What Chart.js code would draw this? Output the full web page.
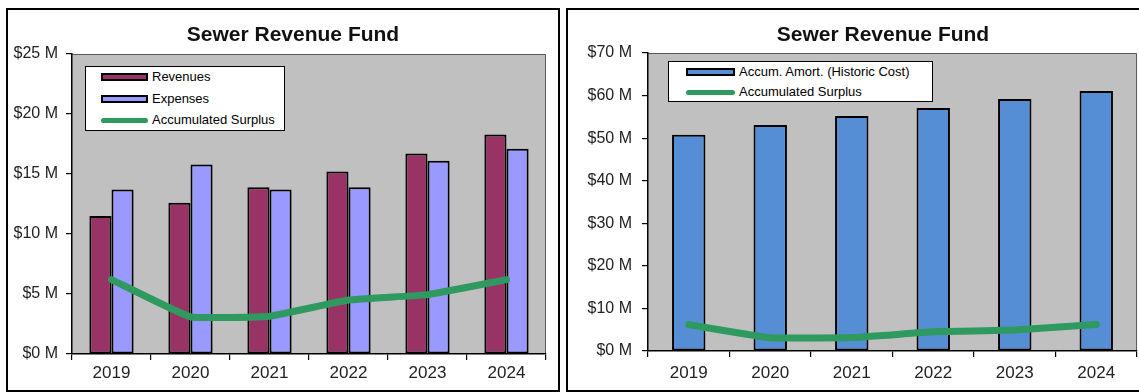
<!DOCTYPE html>
<html><head><meta charset="utf-8">
<script src="https://cdn.jsdelivr.net/npm/chart.js@4/dist/chart.umd.min.js"></script>
<style>
html,body{margin:0;padding:0;background:#fff;width:1139px;height:392px;overflow:hidden;font-family:"Liberation Sans",Arial,sans-serif;}
.panel{position:absolute;border:2px solid #000;box-sizing:border-box;background:#fff;}
#p1{left:6px;top:8px;width:554px;height:384px;}
#p2{left:566px;top:8px;width:590px;height:384px;}
canvas{position:absolute;}
#c1{left:9px;top:10px;}
#c2{left:569px;top:10px;}
.legend{position:absolute;background:#fff;border:1px solid #000;box-sizing:border-box;font-size:13px;color:#000;}
.legend .row{position:absolute;height:16px;line-height:16px;white-space:nowrap;}
.legend .sw{position:absolute;box-sizing:border-box;}
#lg1{left:85px;top:66px;width:200px;height:65px;}
#lg2{left:668px;top:61px;width:265px;height:41px;}
</style></head>
<body>
<div class="panel" id="p1"></div>
<div class="panel" id="p2"></div>
<canvas id="c1" width="548" height="380"></canvas>
<canvas id="c2" width="570" height="380"></canvas>
<div class="legend" id="lg1"></div>
<div class="legend" id="lg2"></div>
<script>
const chartTitle = 'Sewer Revenue Fund';
const years = ['2019','2020','2021','2022','2023','2024'];
const revenues = [11.5, 12.6, 13.9, 15.2, 16.7, 18.3];
const expenses = [13.7, 15.8, 13.7, 13.9, 16.1, 17.1];
const surplus = [6.2, 3.1, 3.15, 4.5, 4.95, 6.2];
const amortization = [50.8, 53.1, 55.2, 57.1, 59.2, 61.1];
const leftTicks = ['$0 M','$5 M','$10 M','$15 M','$20 M','$25 M'];
const rightTicks = ['$0 M','$10 M','$20 M','$30 M','$40 M','$50 M','$60 M','$70 M'];

const FONT = '"Liberation Sans", Arial, sans-serif';
Chart.defaults.font.family = FONT;

const plotBg = {
  id: 'plotBg',
  beforeDraw(c) {
    const {ctx, chartArea: a} = c;
    ctx.save();
    ctx.fillStyle = '#c0c0c0';
    ctx.fillRect(a.left, a.top, a.right - a.left, a.bottom - a.top);
    ctx.strokeStyle = '#5a5a5a';
    ctx.lineWidth = 1;
    ctx.beginPath();
    ctx.moveTo(a.left, a.top + 0.5);
    ctx.lineTo(a.right - 0.5, a.top + 0.5);
    ctx.lineTo(a.right - 0.5, a.bottom);
    ctx.stroke();
    ctx.restore();
  }
};
const titlePlugin = {
  id: 'customTitle',
  afterDraw(c, args, opts) {
    const ctx = c.ctx;
    ctx.save();
    ctx.font = 'bold 21px ' + FONT;
    ctx.fillStyle = '#111';
    ctx.textAlign = 'center';
    ctx.textBaseline = 'middle';
    ctx.fillText(opts.text, opts.x, opts.y);
    ctx.restore();
  }
};

function yScale(max, step, labels, width, pad) {
  return {
    min: 0, max: max,
    ticks: {stepSize: step, callback: (v, i) => labels[i], color: '#222', font: {size: 16}, padding: pad},
    grid: {drawOnChartArea: false, drawTicks: true, tickLength: 6, color: '#000', lineWidth: 1.2},
    border: {display: true, color: '#000', width: 1.5},
    afterFit(s) { s.width = width; }
  };
}
function xScale(height, pad) {
  return {
    grid: {offset: true, drawOnChartArea: false, drawTicks: true, tickLength: 6, color: '#000', lineWidth: 1.2},
    border: {display: true, color: '#000', width: 1.5},
    ticks: {color: '#222', font: {size: 17}, padding: pad, maxRotation: 0},
    afterFit(s) { s.height = height; }
  };
}
const lineStyle = {borderColor: '#2e9a5f', borderWidth: 7, pointRadius: 0, tension: 0.1,
  borderJoinStyle: 'round', borderCapStyle: 'round', fill: false};

const chart1 = new Chart(document.getElementById('c1'), {
  type: 'bar',
  data: {
    labels: years,
    datasets: [
      Object.assign({type: 'line', label: 'Accumulated Surplus', data: surplus, order: 0}, lineStyle),
      {label: 'Revenues', data: revenues, backgroundColor: '#993366', borderColor: '#000', borderWidth: 2,
       borderSkipped: false, categoryPercentage: 0.56, barPercentage: 1, order: 1},
      {label: 'Expenses', data: expenses, backgroundColor: '#9999ff', borderColor: '#000', borderWidth: 2,
       borderSkipped: false, categoryPercentage: 0.56, barPercentage: 1, order: 1}
    ]
  },
  options: {
    responsive: false, animation: false,
    layout: {padding: {left: 0, right: 11, top: 44, bottom: 0}},
    plugins: {legend: {display: false}, tooltip: {enabled: false},
      customTitle: {text: chartTitle, x: 284, y: 25}},
    scales: {x: xScale(36, 3), y: yScale(25, 5, leftTicks, 63, 8)}
  },
  plugins: [plotBg, titlePlugin]
});

const chart2 = new Chart(document.getElementById('c2'), {
  type: 'bar',
  data: {
    labels: years,
    datasets: [
      Object.assign({type: 'line', label: 'Accumulated Surplus', data: surplus, order: 0}, lineStyle),
      {label: 'Accum. Amort. (Historic Cost)', data: amortization, backgroundColor: '#558ed5', borderColor: '#000', borderWidth: 2,
       borderSkipped: false, categoryPercentage: 0.41, barPercentage: 1, order: 1}
    ]
  },
  options: {
    responsive: false, animation: false,
    layout: {padding: {left: 0, right: 2, top: 43, bottom: 0}},
    plugins: {legend: {display: false}, tooltip: {enabled: false},
      customTitle: {text: chartTitle, x: 314, y: 25}},
    scales: {x: xScale(39, 6), y: yScale(70, 10, rightTicks, 79, 10)}
  },
  plugins: [plotBg, titlePlugin]
});

function buildLegend(el, chart, order, rowYs, swX, swW, textX) {
  order.forEach((idx, i) => {
    const ds = chart.data.datasets[idx];
    const row = document.createElement('div');
    row.className = 'row';
    row.style.top = (rowYs[i] - 8) + 'px';
    row.style.left = '0px';
    const sw = document.createElement('div');
    sw.className = 'sw';
    sw.style.left = swX + 'px';
    sw.style.width = swW + 'px';
    if (ds.type === 'line') {
      sw.style.top = '6px'; sw.style.height = '5px';
      sw.style.background = ds.borderColor; sw.style.borderRadius = '3px';
    } else {
      sw.style.top = '4px'; sw.style.height = '8px';
      sw.style.background = ds.backgroundColor; sw.style.border = '2px solid #000';
    }
    const tx = document.createElement('span');
    tx.textContent = ds.label;
    tx.style.position = 'absolute';
    tx.style.left = textX + 'px';
    row.appendChild(sw); row.appendChild(tx);
    el.appendChild(row);
  });
}
buildLegend(document.getElementById('lg1'), chart1, [1, 2, 0], [10, 32, 53], 15, 47, 66);
buildLegend(document.getElementById('lg2'), chart2, [1, 0], [10, 30], 17, 49, 70);
</script>
</body></html>
